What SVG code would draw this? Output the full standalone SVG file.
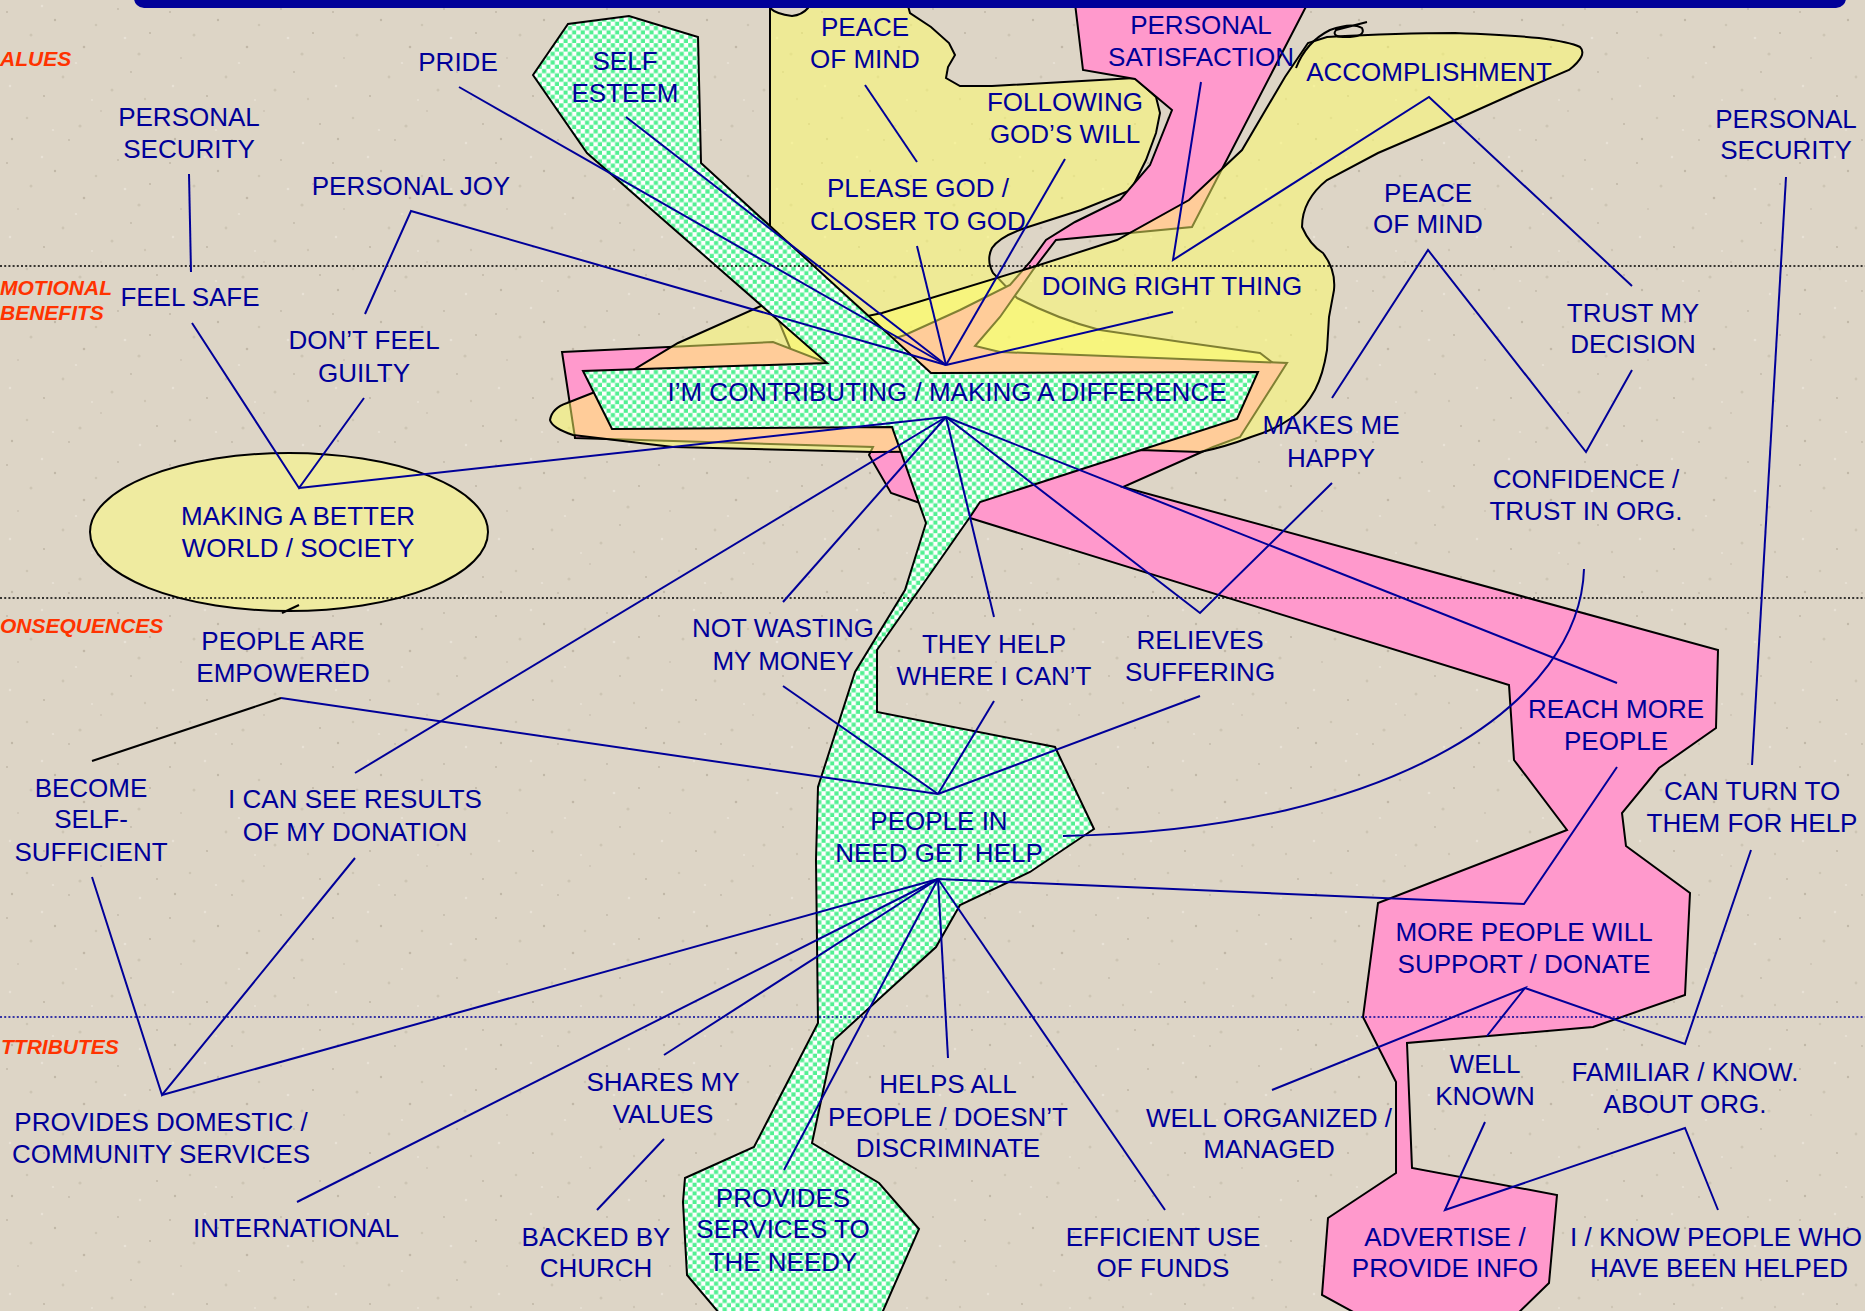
<svg xmlns="http://www.w3.org/2000/svg" width="1865" height="1311" viewBox="0 0 1865 1311">
<defs>
<pattern id="tex" width="163" height="151" patternUnits="userSpaceOnUse">
<rect width="163" height="151" fill="#ddd5c6"/>
<g fill="#b5ac9a" fill-opacity="0.7">
<circle cx="7" cy="12" r="1"/><circle cx="55" cy="20" r="1.2"/><circle cx="118" cy="9" r="0.9"/><circle cx="150" cy="33" r="1.1"/>
<circle cx="18" cy="58" r="0.8"/><circle cx="84" cy="47" r="1.3"/><circle cx="131" cy="72" r="0.9"/><circle cx="44" cy="96" r="1.1"/>
<circle cx="101" cy="111" r="0.8"/><circle cx="157" cy="124" r="1"/><circle cx="12" cy="139" r="1.2"/><circle cx="69" cy="140" r="0.9"/>
</g>
<g fill="#c9c0af" fill-opacity="0.8">
<circle cx="31" cy="35" r="1.5"/><circle cx="96" cy="25" r="1.3"/><circle cx="139" cy="54" r="1.6"/><circle cx="63" cy="77" r="1.4"/>
<circle cx="112" cy="90" r="1.5"/><circle cx="27" cy="118" r="1.3"/><circle cx="80" cy="126" r="1.6"/><circle cx="145" cy="99" r="1.2"/>
</g>
<g fill="#ebe5da" fill-opacity="0.8">
<circle cx="42" cy="6" r="1.2"/><circle cx="76" cy="63" r="1.1"/><circle cx="125" cy="38" r="1.3"/><circle cx="10" cy="86" r="1.2"/>
<circle cx="92" cy="100" r="1"/><circle cx="140" cy="143" r="1.2"/><circle cx="53" cy="130" r="1.1"/>
</g>
</pattern>
<pattern id="dots" width="8.6" height="8.6" patternUnits="userSpaceOnUse">
<rect width="8.6" height="8.6" fill="#ffffff"/>
<rect x="0.2" y="0.2" width="4.2" height="4.2" fill="#52f092"/>
<rect x="4.5" y="4.5" width="4.2" height="4.2" fill="#52f092"/>
</pattern>
<style>
.lbl{font-family:"Liberation Sans",Arial,sans-serif;font-size:26px;fill:#000099;text-anchor:middle}
.lvl{font-family:"Liberation Sans",Arial,sans-serif;font-size:21px;font-weight:bold;font-style:italic;fill:#ff3300}
.con{stroke:#000099;stroke-width:2;fill:none;stroke-linejoin:miter}
.blk{stroke:#000000;stroke-width:2;fill:none}
.shp{stroke:#000000;stroke-width:2;stroke-linejoin:miter}
.yel{fill:#ffff66;fill-opacity:0.5}
.pnk{fill:#ff99cc}
.grn{fill:url(#dots)}
.dot{stroke:#000000;stroke-width:1.6;stroke-dasharray:2 2.2;fill:none}
</style>
</defs>

<rect width="1865" height="1311" fill="url(#tex)"/>

<g id="shapes">
<path id="blob-god" class="shp yel" d="M770,-5 L770,8 Q776,14 792,16 Q802,15 808,8 L812,-5 L905,-5 L910,13 L931,27 L949,43 L955,55 L948,67 L946,78 L960,86 L992,86 L1064,82 L1135,78 L1156,97 L1160,113 L1156,133 L1146,160 L1131,190 L1081,210 L1028,227 Q1000,236 992,248 Q986,260 993,273 L1017,298 Q1060,320 1100,330 Q1180,342 1260,353 L1273,363 L1260,372 L800,372 L770,300 Z"/>
<path id="pink-band" class="shp pnk" d="M562,352 L773,342 L827,363 L860,350 L905,335 L960,310 L1010,285 L1030,262 L1046,240 L1075,222 L1120,200 L1150,165 L1172,110 L1135,79 L1083,70 L1074,-5 L1312,-5 L1192,227 L1056,240 L1033,270 L1000,317 L975,346 L1000,352 L1287,363 L1240,437 L1213,447 L1123,487 L1718,650 L1716,728 L1659,768 L1622,813 L1626,846 L1690,893 L1685,995 L1593,1027 L1407,1043 L1412,1168 L1557,1195 L1549,1283 L1511,1320 L1368,1320 L1322,1295 L1328,1218 L1396,1173 L1396,1082 L1363,1017 L1378,903 L1567,830 L1514,760 L1509,685 L970,518 L920,503 L891,493 L869,455 L873,447 L575,438 Z"/>
<path id="blob-accomplish" class="shp yel" d="M550,420 Q552,408 567,403 L600,390 L678,343 L770,302 L815,300 L858,318 L882,313 L1033,267 L1117,240 L1189,200 L1242,150 L1285,77 L1308,43 L1327,37 Q1400,33 1455,33 Q1510,35 1539,38 Q1570,42 1580,47 Q1588,55 1569,70 L1522,90 L1455,120 L1378,153 L1327,180 Q1302,200 1302,227 Q1310,245 1323,253 Q1336,270 1334,290 L1329,317 L1327,350 Q1323,375 1315,390 Q1305,408 1293,417 Q1275,430 1251,437 Q1225,447 1200,452 L1140,450 L873,452 L673,447 L573,435 Q552,428 550,420 Z"/>
<path id="scribble" class="blk" stroke-width="1.6" d="M1296,68 Q1306,42 1330,30 Q1352,22 1362,28 Q1366,36 1350,37 Q1330,38 1336,30 L1367,22"/>
<path id="green-stem" class="shp grn" d="M533,75 L568,24 L629,16 L698,37 L701,163 L931,373 L1258,372 L1237,419 L980,502 L970,517 L877,650 L877,712 L1055,747 L1094,829 L1030,872 L960,905 L936,947 L834,1040 L812,1143 L879,1183 L919,1229 L879,1320 L725,1320 L687,1275 L683,1202 L685,1178 L754,1147 L818,1023 L816,860 L818,787 L855,672 L905,590 L926,523 L892,427 L612,429 L583,371 L827,363 L587,153 Z"/>
<ellipse id="world-ellipse" class="shp" cx="289" cy="532" rx="199" ry="79" fill="#efeba0"/>
</g>
<rect id="top-bar" x="134" y="-20" width="1712" height="28" rx="10" fill="#000099"/>

<g id="levels">
<path class="dot" d="M0,266 H1865"/>
<path class="dot" d="M0,598 H1865"/>
<path class="dot" style="stroke:#000099" d="M0,1017 H1865"/>
<text class="lvl" x="0" y="66">ALUES</text>
<text class="lvl" x="0" y="295">MOTIONAL</text>
<text class="lvl" x="0" y="320">BENEFITS</text>
<text class="lvl" x="0" y="633">ONSEQUENCES</text>
<text class="lvl" x="1" y="1054">TTRIBUTES</text>
</g>

<g id="connectors">
<path class="con" d="M189,174 L191,272"/>
<path class="con" d="M365,314 L411,211 L946,365"/>
<path class="con" d="M459,87 L946,365"/>
<path class="con" d="M626,117 L946,365"/>
<path class="con" d="M865,85 L917,162"/>
<path class="con" d="M917,246 L946,365"/>
<path class="con" d="M1065,159 L946,365"/>
<path class="con" d="M1201,82 L1173,260 L1429,97 L1632,286"/>
<path class="con" d="M1173,312 L946,365"/>
<path class="con" d="M1332,398 L1428,250 L1586,452 L1632,370"/>
<path class="con" d="M1786,177 L1752,765"/>
<path class="con" d="M192,323 L299,488 L364,398"/>
<path class="con" d="M299,488 L946,417"/>
<path class="con" d="M355,773 L946,417"/>
<path class="con" d="M783,602 L946,417"/>
<path class="con" d="M994,617 L946,417"/>
<path class="con" d="M946,417 L1200,613 L1332,483"/>
<path class="con" d="M946,417 L1617,683"/>
<path class="blk" d="M92,761 L281,698"/>
<path class="con" d="M281,698 L938,794"/>
<path class="blk" d="M282,613 L299,605"/>
<path class="con" d="M783,686 L938,794"/>
<path class="con" d="M994,701 L938,794"/>
<path class="con" d="M1200,696 L938,794"/>
<path class="con" d="M1584,569 C1580,700 1400,830 1063,836"/>
<path class="con" d="M92,877 L162,1095 L355,858"/>
<path class="con" d="M162,1095 L938,879"/>
<path class="con" d="M297,1202 L938,879"/>
<path class="con" d="M664,1055 L938,879"/>
<path class="con" d="M664,1139 L597,1210"/>
<path class="con" d="M784,1170 L938,879"/>
<path class="con" d="M948,1058 L938,879"/>
<path class="con" d="M1165,1210 L938,879"/>
<path class="con" d="M938,879 L1524,904 L1617,767"/>
<path class="con" d="M1272,1090 L1525,988 L1487,1036"/>
<path class="con" d="M1525,988 L1685,1044 L1751,850"/>
<path class="con" d="M1485,1122 L1445,1210 L1685,1128 L1718,1210"/>
</g>

<g id="nodes">
<g id="n-pride"><text class="lbl" x="458" y="71">PRIDE</text></g>
<g id="n-self-esteem"><text class="lbl"><tspan x="625" y="70">SELF</tspan><tspan x="625" y="102">ESTEEM</tspan></text></g>
<g id="n-peace-top"><text class="lbl"><tspan x="865" y="36">PEACE</tspan><tspan x="865" y="68">OF MIND</tspan></text></g>
<g id="n-satisfaction"><text class="lbl"><tspan x="1201" y="34">PERSONAL</tspan><tspan x="1201" y="66">SATISFACTION</tspan></text></g>
<g id="n-gods-will"><text class="lbl"><tspan x="1065" y="111">FOLLOWING</tspan><tspan x="1065" y="143">GOD’S WILL</tspan></text></g>
<g id="n-accomplishment"><text class="lbl" x="1429" y="81">ACCOMPLISHMENT</text></g>
<g id="n-security-l"><text class="lbl"><tspan x="189" y="126">PERSONAL</tspan><tspan x="189" y="158">SECURITY</tspan></text></g>
<g id="n-security-r"><text class="lbl"><tspan x="1786" y="128">PERSONAL</tspan><tspan x="1786" y="159">SECURITY</tspan></text></g>
<g id="n-joy"><text class="lbl" x="411" y="195">PERSONAL JOY</text></g>
<g id="n-please-god"><text class="lbl"><tspan x="918" y="197">PLEASE GOD /</tspan><tspan x="918" y="230">CLOSER TO GOD</tspan></text></g>
<g id="n-peace-r"><text class="lbl"><tspan x="1428" y="202">PEACE</tspan><tspan x="1428" y="233">OF MIND</tspan></text></g>
<g id="n-feel-safe"><text class="lbl" x="190" y="306">FEEL SAFE</text></g>
<g id="n-right-thing"><text class="lbl" x="1172" y="295">DOING RIGHT THING</text></g>
<g id="n-trust-decision"><text class="lbl"><tspan x="1633" y="322">TRUST MY</tspan><tspan x="1633" y="353">DECISION</tspan></text></g>
<g id="n-guilty"><text class="lbl"><tspan x="364" y="349">DON’T FEEL</tspan><tspan x="364" y="382">GUILTY</tspan></text></g>
<g id="n-contributing"><text class="lbl" x="947" y="401">I’M CONTRIBUTING / MAKING A DIFFERENCE</text></g>
<g id="n-happy"><text class="lbl"><tspan x="1331" y="434">MAKES ME</tspan><tspan x="1331" y="467">HAPPY</tspan></text></g>
<g id="n-confidence"><text class="lbl"><tspan x="1586" y="488">CONFIDENCE /</tspan><tspan x="1586" y="520">TRUST IN ORG.</tspan></text></g>
<g id="n-better-world"><text class="lbl"><tspan x="298" y="525">MAKING A BETTER</tspan><tspan x="298" y="557">WORLD / SOCIETY</tspan></text></g>
<g id="n-empowered"><text class="lbl"><tspan x="283" y="650">PEOPLE ARE</tspan><tspan x="283" y="682">EMPOWERED</tspan></text></g>
<g id="n-not-wasting"><text class="lbl"><tspan x="783" y="637">NOT WASTING</tspan><tspan x="783" y="670">MY MONEY</tspan></text></g>
<g id="n-they-help"><text class="lbl"><tspan x="994" y="653">THEY HELP</tspan><tspan x="994" y="685">WHERE I CAN’T</tspan></text></g>
<g id="n-relieves"><text class="lbl"><tspan x="1200" y="649">RELIEVES</tspan><tspan x="1200" y="681">SUFFERING</tspan></text></g>
<g id="n-reach-more"><text class="lbl"><tspan x="1616" y="718">REACH MORE</tspan><tspan x="1616" y="750">PEOPLE</tspan></text></g>
<g id="n-self-sufficient"><text class="lbl"><tspan x="91" y="797">BECOME</tspan><tspan x="91" y="828">SELF-</tspan><tspan x="91" y="861">SUFFICIENT</tspan></text></g>
<g id="n-see-results"><text class="lbl"><tspan x="355" y="808">I CAN SEE RESULTS</tspan><tspan x="355" y="841">OF MY DONATION</tspan></text></g>
<g id="n-people-help"><text class="lbl"><tspan x="939" y="830">PEOPLE IN</tspan><tspan x="939" y="862">NEED GET HELP</tspan></text></g>
<g id="n-turn-to"><text class="lbl"><tspan x="1752" y="800">CAN TURN TO</tspan><tspan x="1752" y="832">THEM FOR HELP</tspan></text></g>
<g id="n-more-support"><text class="lbl"><tspan x="1524" y="941">MORE PEOPLE WILL</tspan><tspan x="1524" y="973">SUPPORT / DONATE</tspan></text></g>
<g id="n-domestic"><text class="lbl"><tspan x="161" y="1131">PROVIDES DOMESTIC /</tspan><tspan x="161" y="1163">COMMUNITY SERVICES</tspan></text></g>
<g id="n-shares-values"><text class="lbl"><tspan x="663" y="1091">SHARES MY</tspan><tspan x="663" y="1123">VALUES</tspan></text></g>
<g id="n-helps-all"><text class="lbl"><tspan x="948" y="1093">HELPS ALL</tspan><tspan x="948" y="1126">PEOPLE / DOESN’T</tspan><tspan x="948" y="1157">DISCRIMINATE</tspan></text></g>
<g id="n-well-organized"><text class="lbl"><tspan x="1269" y="1127">WELL ORGANIZED /</tspan><tspan x="1269" y="1158">MANAGED</tspan></text></g>
<g id="n-well-known"><text class="lbl"><tspan x="1485" y="1073">WELL</tspan><tspan x="1485" y="1105">KNOWN</tspan></text></g>
<g id="n-familiar"><text class="lbl"><tspan x="1685" y="1081">FAMILIAR / KNOW.</tspan><tspan x="1685" y="1113">ABOUT ORG.</tspan></text></g>
<g id="n-international"><text class="lbl" x="296" y="1237">INTERNATIONAL</text></g>
<g id="n-church"><text class="lbl"><tspan x="596" y="1246">BACKED BY</tspan><tspan x="596" y="1277">CHURCH</tspan></text></g>
<g id="n-services-needy"><text class="lbl"><tspan x="783" y="1207">PROVIDES</tspan><tspan x="783" y="1238">SERVICES TO</tspan><tspan x="783" y="1271">THE NEEDY</tspan></text></g>
<g id="n-efficient"><text class="lbl"><tspan x="1163" y="1246">EFFICIENT USE</tspan><tspan x="1163" y="1277">OF FUNDS</tspan></text></g>
<g id="n-advertise"><text class="lbl"><tspan x="1445" y="1246">ADVERTISE /</tspan><tspan x="1445" y="1277">PROVIDE INFO</tspan></text></g>
<g id="n-know-people"><text class="lbl"><tspan x="1716" y="1246">I / KNOW PEOPLE WHO</tspan><tspan x="1719" y="1277">HAVE BEEN HELPED</tspan></text></g>
</g>
</svg>
